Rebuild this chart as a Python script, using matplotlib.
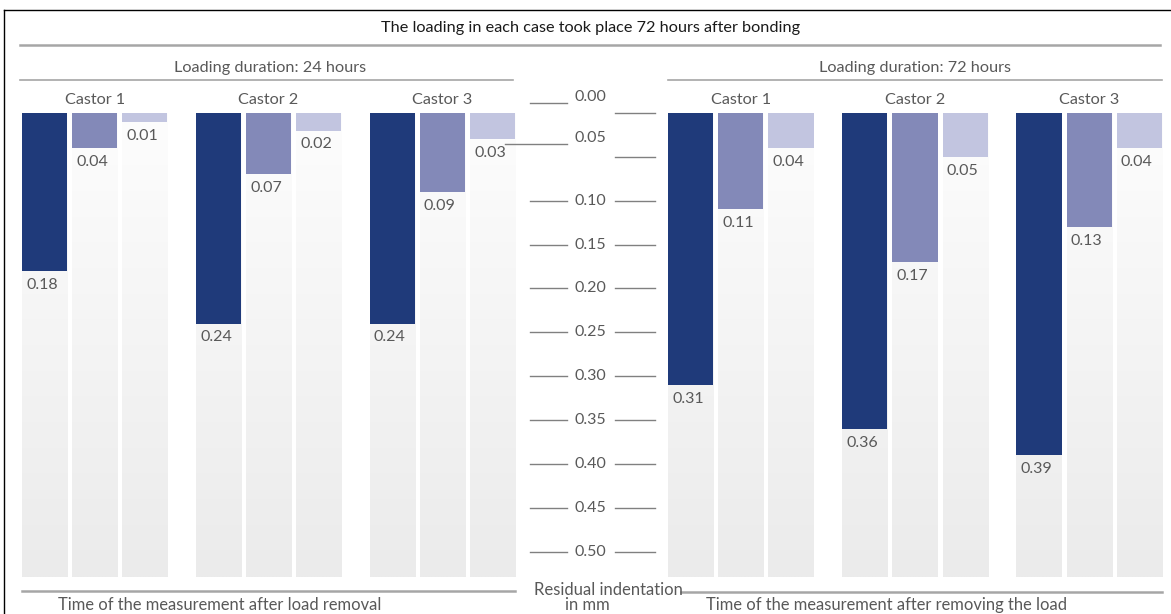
import numpy as np
import matplotlib.pyplot as plt
from matplotlib.lines import Line2D
from matplotlib.colors import LinearSegmentedColormap

# residual indentation in mm, one row per castor, one column per measurement time
castors = ['Castor 1', 'Castor 2', 'Castor 3']
indent_24h = [[0.18, 0.04, 0.01],
              [0.24, 0.07, 0.02],
              [0.24, 0.09, 0.03]]
indent_72h = [[0.31, 0.11, 0.04],
              [0.36, 0.17, 0.05],
              [0.39, 0.13, 0.04]]
scale_ticks = [0.00, 0.05, 0.10, 0.15, 0.20, 0.25, 0.30, 0.35, 0.40, 0.45, 0.50]

title = 'The loading in each case took place 72 hours after bonding'
panel_titles = ['Loading duration: 24 hours', 'Loading duration: 72 hours']
bottom_labels = ['Time of the measurement after load removal',
                 'Time of the measurement after removing the load']
axis_label = ['Residual indentation', 'in mm']

# style
plt.rcParams['font.family'] = ['Lato', 'DejaVu Sans']
bar_colors = ['#1f3a7a', '#8389b8', '#c2c5e0']
txt_gray = '#595959'
rule_gray = '#a6a6a6'
bg_cmap = LinearSegmentedColormap.from_list('bg', ['#fdfdfd', '#ebebeb'])
FS = 11.7

W, H = 1171, 614
Y_MAX = 0.529          # data value at the bottom of the background columns
GROUP = 3.47           # distance between castor groups (bar pitch = 1)
BW = 0.9               # bar width


def fx(px):
    return px / W


def fy(py):
    return 1 - py / H


def hline(x0, x1, y, color=rule_gray, lw=1.8):
    fig.add_artist(Line2D([fx(x0), fx(x1)], [fy(y), fy(y)], color=color, lw=lw))


def draw_panel(ax, values):
    grad = np.linspace(0, 1, 256).reshape(-1, 1)
    for g, vals in enumerate(values):
        for k, v in enumerate(vals):
            x0 = g * GROUP + k
            ax.imshow(grad, extent=(x0, x0 + BW, Y_MAX, 0), cmap=bg_cmap,
                      aspect='auto', zorder=0, interpolation='bilinear')
            ax.bar(x0, v, width=BW, align='edge', color=bar_colors[k], zorder=2)
            ax.annotate(f'{v:.2f}', (x0, v), xytext=(3, -5), textcoords='offset points',
                        ha='left', va='top', fontsize=11.5, color=txt_gray)
        ax.annotate(castors[g], (g * GROUP + (2 + BW) / 2, 0), xytext=(0, 4),
                    textcoords='offset points', ha='center', va='bottom',
                    fontsize=FS, color=txt_gray, annotation_clip=False)
    ax.set_xlim(0, 2 * GROUP + 2 + BW)
    ax.set_ylim(Y_MAX, 0)
    ax.axis('off')


fig = plt.figure(figsize=(W / 100, H / 100), dpi=100)

ax_l = fig.add_axes([fx(22), fy(577), fx(515) - fx(22), fy(113) - fy(577)])
ax_r = fig.add_axes([fx(668), fy(577), fx(1162) - fx(668), fy(113) - fy(577)])
draw_panel(ax_l, indent_24h)
draw_panel(ax_r, indent_72h)

# central scale
ax_c = fig.add_axes([fx(500), fy(577), fx(665) - fx(500), fy(113) - fy(577)])
ax_c.set_xlim(500, 665)
ax_c.set_ylim(Y_MAX, 0)
ax_c.axis('off')
label_shift = {0.00: -0.018, 0.05: -0.022}
left_start = {0.05: 505}
for t in scale_ticks:
    s = label_shift.get(t, 0)
    ly = t + s + (0.007 if s else 0)
    ax_c.plot([left_start.get(t, 530), 567], [ly, ly], color='#808080', lw=1, clip_on=False)
    ax_c.plot([615, 655], [t, t], color='#808080', lw=1, clip_on=False)
    ax_c.text(590, t + s, f'{t:.2f}', ha='center', va='center', fontsize=11.5,
              color=txt_gray, clip_on=False)

# frame, headers and rules
fig.add_artist(Line2D([fx(4), fx(4)], [fy(10), 0], color='black', lw=1))
fig.add_artist(Line2D([fx(4), 1], [fy(10), fy(10)], color='black', lw=1))
fig.text(fx(591), fy(28), title, ha='center', va='center', fontsize=FS, color='#1a1a1a')
hline(20, 1160, 45)
fig.text(fx(270), fy(68), panel_titles[0], ha='center', va='center', fontsize=FS, color=txt_gray)
fig.text(fx(915), fy(68), panel_titles[1], ha='center', va='center', fontsize=FS, color=txt_gray)
hline(20, 513, 80, lw=1.2)
hline(668, 1162, 80, lw=1.2)

hline(22, 515, 591)
hline(681, 1162, 592)
fig.text(fx(608), fy(590), axis_label[0], ha='center', va='center', fontsize=12,
         color=txt_gray)
fig.text(fx(587), fy(605), axis_label[1], ha='center', va='center', fontsize=12,
         color=txt_gray)
fig.text(fx(220), fy(605), bottom_labels[0], ha='center', va='center', fontsize=11.9, color=txt_gray)
fig.text(fx(887), fy(605), bottom_labels[1], ha='center', va='center', fontsize=11.9, color=txt_gray)

fig.savefig('out.png', dpi=100)
